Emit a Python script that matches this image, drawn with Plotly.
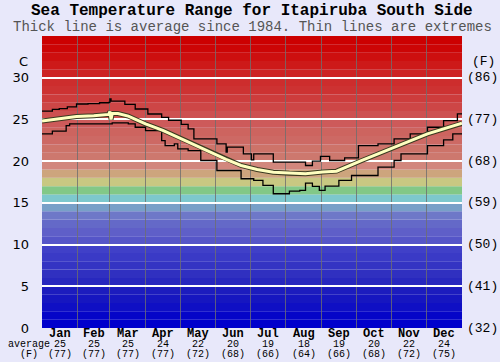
import plotly.graph_objects as go

# ---------------- data ----------------
months = ["Jan", "Feb", "Mar", "Apr", "May", "Jun", "Jul", "Aug", "Sep", "Oct", "Nov", "Dec"]
month_start_day = [0, 31, 59, 90, 120, 151, 181, 212, 243, 273, 304, 334, 365]
month_avg_c = ["25", "25", "25", "24", "22", "20", "19", "18", "19", "20", "22", "24"]
month_avg_f = ["(77)", "(77)", "(77)", "(77)", "(72)", "(68)", "(66)", "(64)", "(66)", "(68)", "(72)", "(75)"]

c_ticks = [0, 5, 10, 15, 20, 25, 30]
f_ticktext = ["(32)", "(41)", "(50)", "(59)", "(68)", "(77)", "(86)"]

avg_day = [0, 10, 20, 30, 45, 58, 59, 60, 61, 66, 75, 90, 105, 115, 121, 144, 160,
           173, 187, 201, 215, 229, 244, 256, 278, 306, 335, 365]
avg_temp = [24.8, 25.0, 25.2, 25.34, 25.45, 25.6, 25.95, 25.0, 25.7, 25.7, 25.4, 24.46, 23.7,
            23.07, 22.67, 21.27, 20.2, 19.48, 19.0, 18.68, 18.55, 18.49, 18.7, 18.8, 20.08,
            21.67, 23.27, 24.54]

max_day = [0, 9, 15, 22, 30, 40, 50, 58, 59, 60, 72, 81, 92, 104, 110, 121, 127, 132,
           152, 160, 161, 175, 182, 184, 201, 229, 235, 242, 250, 263, 275, 292, 306,
           320, 335, 349, 361, 365]
max_temp = [26.0, 26.2, 26.3, 26.5, 26.85, 26.9, 27.0, 27.05, 27.45, 27.2, 26.8, 26.25,
            25.65, 25.25, 24.9, 24.4, 23.87, 22.67, 22.07, 21.07, 21.67, 20.87, 20.15,
            20.87, 19.88, 19.48, 20.0, 20.56, 20.08, 20.4, 21.87, 22.07, 22.67, 23.27,
            24.06, 24.86, 25.66, 25.7]

min_day = [0, 9, 21, 24, 61, 75, 81, 90, 104, 107, 115, 118, 127, 138, 152, 173, 184,
           192, 201, 215, 224, 229, 235, 241, 246, 258, 269, 292, 306, 312, 335, 349,
           357, 365]
min_temp = [23.27, 23.6, 24.26, 24.46, 24.58, 24.46, 24.06, 23.66, 22.47, 21.87, 22.07,
            21.47, 21.27, 20.08, 18.88, 17.89, 17.69, 17.09, 16.09, 16.41, 16.5, 17.37,
            16.97, 16.49, 17.0, 17.69, 18.28, 19.28, 20.08, 20.87, 21.87, 22.55, 23.27, 23.3]

title_text = "Sea Temperature Range for Itapiruba South Side"
subtitle_text = "Thick line is average since 1984. Thin lines are extremes"

# ---------------- styles ----------------
band_colors = [
    (0, 0, 204), (5, 5, 200), (15, 15, 196), (22, 22, 192), (28, 28, 190),
    (40, 40, 190), (48, 48, 192), (52, 52, 195), (58, 58, 198), (64, 64, 200),
    (85, 85, 200), (95, 95, 200), (100, 105, 200), (110, 120, 200), (120, 160, 200),
    (125, 200, 205), (130, 200, 135), (200, 200, 130), (205, 165, 125), (210, 135, 125),
    (205, 120, 110), (205, 115, 105), (205, 105, 100), (205, 100, 95), (205, 90, 90),
    (205, 80, 80), (205, 70, 70), (205, 60, 60), (205, 50, 50), (205, 45, 45),
    (205, 35, 35), (205, 25, 25), (205, 15, 15), (204, 5, 5), (204, 0, 0),
]
BG = "rgb(232,232,250)"
MONO = "Liberation Mono, Courier New, monospace"
SANS = "DejaVu Sans, Verdana, sans-serif"

fig = go.Figure()

fig.add_trace(go.Scatter(x=max_day, y=max_temp, mode="lines", line=dict(color="black", width=1.3, shape="hv"),
                         hoverinfo="skip", showlegend=False))
fig.add_trace(go.Scatter(x=min_day, y=min_temp, mode="lines", line=dict(color="black", width=1.3, shape="hv"),
                         hoverinfo="skip", showlegend=False))
fig.add_trace(go.Scatter(x=avg_day, y=avg_temp, mode="lines", line=dict(color="#3a3a20", width=5),
                         hoverinfo="skip", showlegend=False))
fig.add_trace(go.Scatter(x=avg_day, y=avg_temp, mode="lines", line=dict(color="#ffffc0", width=3),
                         hoverinfo="skip", showlegend=False))

shapes = []
for i, c in enumerate(band_colors):
    shapes.append(dict(type="rect", xref="paper", yref="y", x0=0, x1=1, y0=i, y1=i + 1,
                       fillcolor="rgb(%d,%d,%d)" % c, line=dict(width=0), layer="below"))

annotations = []
annotations.append(dict(x=0.5, y=1.0856, xref="paper", yref="paper", text="<b>%s</b>" % title_text,
                        showarrow=False, font=dict(family=MONO, size=16, color="black"),
                        xanchor="center", yanchor="middle"))
annotations.append(dict(x=0.5, y=1.0308, xref="paper", yref="paper", text=subtitle_text,
                        showarrow=False, font=dict(family=MONO, size=14, color="#555555"),
                        xanchor="center", yanchor="middle"))
for i, m in enumerate(months):
    mid = (month_start_day[i] + month_start_day[i + 1]) / 2
    annotations.append(dict(x=mid, y=-0.021, xref="x", yref="paper", text="<b>%s</b>" % m,
                            showarrow=False, font=dict(family=MONO, size=12, color="black"),
                            xanchor="center", yanchor="middle"))
    annotations.append(dict(x=mid, y=-0.056, xref="x", yref="paper", text=month_avg_c[i],
                            showarrow=False, font=dict(family=MONO, size=10, color="black"),
                            xanchor="center", yanchor="middle"))
    annotations.append(dict(x=mid, y=-0.090, xref="x", yref="paper", text=month_avg_f[i],
                            showarrow=False, font=dict(family=MONO, size=10, color="black"),
                            xanchor="center", yanchor="middle"))
annotations.append(dict(x=-0.03, y=-0.056, xref="paper", yref="paper", text="average",
                        showarrow=False, font=dict(family=MONO, size=10, color="black"),
                        xanchor="center", yanchor="middle"))
annotations.append(dict(x=-0.03, y=-0.090, xref="paper", yref="paper", text="(F)",
                        showarrow=False, font=dict(family=MONO, size=10, color="black"),
                        xanchor="center", yanchor="middle"))
for tv, tt in zip(c_ticks, f_ticktext):
    annotations.append(dict(x=1, y=tv, xref="paper", yref="y", text=tt, xshift=3,
                            showarrow=False, font=dict(family=MONO, size=13, color="black"),
                            xanchor="left", yanchor="middle"))
annotations.append(dict(x=1, y=32, xref="paper", yref="y", text="(F)", xshift=8,
                        showarrow=False, font=dict(family=MONO, size=13, color="black"),
                        xanchor="left", yanchor="middle"))
annotations.append(dict(x=0, y=32, xref="paper", yref="y", text="C", xshift=-12,
                        showarrow=False, font=dict(family=SANS, size=13, color="black"),
                        xanchor="right", yanchor="middle"))

fig.update_layout(
    width=500, height=362,
    margin=dict(l=35, r=38, t=36, b=34),
    paper_bgcolor=BG, plot_bgcolor=BG,
    shapes=shapes,
    annotations=annotations,
    xaxis=dict(range=[0, 365], tickvals=month_start_day, showticklabels=False, ticks="",
               showgrid=True, gridcolor="rgba(110,110,110,0.8)", gridwidth=1, zeroline=False,
               showline=False, fixedrange=True),
    yaxis=dict(range=[0, 35], tickvals=c_ticks, showgrid=True, gridcolor="white", gridwidth=2,
               zeroline=False, showline=False, ticks="", ticklabelstandoff=12,
               tickfont=dict(family=SANS, size=13, color="black"), fixedrange=True),
)

fig.write_html("out.html", config={"displayModeBar": False},
               post_script="document.body.style.margin='0';")
